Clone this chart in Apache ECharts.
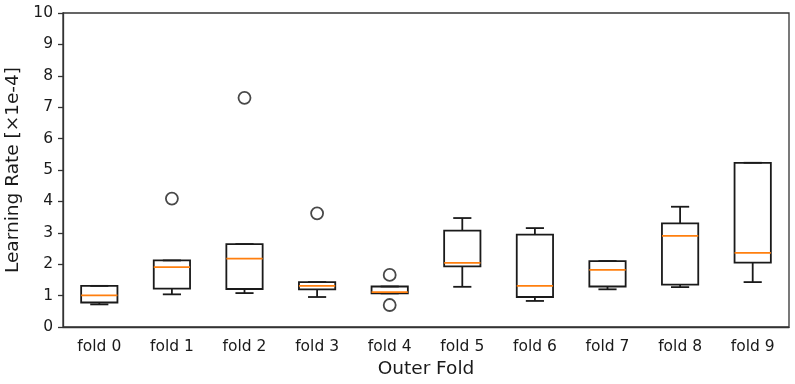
<!DOCTYPE html>
<html>
<head>
<meta charset="utf-8">
<script src="https://cdn.jsdelivr.net/npm/echarts@6/dist/echarts.min.js"></script>
<style>
  html, body { margin: 0; padding: 0; background: #fff; }
  #chart { width: 795px; height: 384px; }
</style>
</head>
<body>
<div id="chart"></div>
<script>
// box plot values per outer fold (x1e-4)
const folds = ['fold 0', 'fold 1', 'fold 2', 'fold 3', 'fold 4', 'fold 5', 'fold 6', 'fold 7', 'fold 8', 'fold 9'];
const whiskerLow = [0.72, 1.04, 1.08, 0.955, 1.07, 1.28, 0.83, 1.20, 1.27, 1.43];
const q1 = [0.78, 1.22, 1.21, 1.20, 1.07, 1.93, 0.955, 1.29, 1.35, 2.05];
const median = [1.01, 1.91, 2.18, 1.31, 1.11, 2.04, 1.31, 1.82, 2.90, 2.36];
const q3 = [1.31, 2.12, 2.64, 1.43, 1.29, 3.07, 2.94, 2.10, 3.30, 5.23];
const whiskerHigh = [1.31, 2.12, 2.64, 1.43, 1.29, 3.47, 3.15, 2.10, 3.83, 5.23];
// [fold index, value]
const outliers = [[1, 4.09], [2, 7.30], [3, 3.62], [4, 1.66], [4, 0.70]];
const yTicks = [0, 1, 2, 3, 4, 5, 6, 7, 8, 9, 10];

const boxData = folds.map((f, i) => [i, whiskerLow[i], q1[i], median[i], q3[i], whiskerHigh[i]]);

const FONT = "'DejaVu Sans', sans-serif";
const INK = '#1a1a1a';

const chart = echarts.init(document.getElementById('chart'), null, { renderer: 'canvas' });

function renderBox(params, api) {
  const idx = api.value(0);
  const band = api.size([1, 0])[0];
  const half = band * 0.25;
  const cap = band * 0.125;
  const pLow = api.coord([idx, api.value(1)]);
  const pQ1 = api.coord([idx, api.value(2)]);
  const pMed = api.coord([idx, api.value(3)]);
  const pQ3 = api.coord([idx, api.value(4)]);
  const pHigh = api.coord([idx, api.value(5)]);
  const x = pQ1[0];
  const line = { stroke: INK, lineWidth: 1.8, fill: null };
  return {
    type: 'group',
    children: [
      { type: 'line', shape: { x1: x, y1: pQ1[1], x2: x, y2: pLow[1] }, style: line },
      { type: 'line', shape: { x1: x, y1: pQ3[1], x2: x, y2: pHigh[1] }, style: line },
      { type: 'line', shape: { x1: x - cap, y1: pLow[1], x2: x + cap, y2: pLow[1] }, style: line },
      { type: 'line', shape: { x1: x - cap, y1: pHigh[1], x2: x + cap, y2: pHigh[1] }, style: line },
      { type: 'rect', shape: { x: x - half, y: pQ3[1], width: half * 2, height: pQ1[1] - pQ3[1] }, style: line },
      { type: 'line', shape: { x1: x - half, y1: pMed[1], x2: x + half, y2: pMed[1] }, style: { stroke: '#ff7f0e', lineWidth: 1.8 } }
    ]
  };
}

chart.setOption({
  animation: false,
  backgroundColor: '#fff',
  grid: {
    left: 63, right: 6, top: 13, bottom: 57,
    outerBoundsMode: 'none',
    containLabel: false,
    show: true, borderColor: '#333', borderWidth: 1.3, backgroundColor: 'transparent'
  },
  xAxis: {
    type: 'category',
    data: folds,
    name: 'Outer Fold',
    nameLocation: 'middle',
    nameGap: 33,
    nameTextStyle: { fontFamily: FONT, fontSize: 18.5, color: INK },
    axisLine: { lineStyle: { color: '#333', width: 1.3 } },
    axisTick: { alignWithLabel: true, length: 5, lineStyle: { color: '#333', width: 1.3 } },
    axisLabel: { fontFamily: FONT, fontSize: 15.5, color: INK, margin: 12 },
    splitLine: { show: false }
  },
  yAxis: {
    type: 'value',
    min: 0, max: 10, interval: 1,
    name: 'Learning Rate [×1e-4]',
    nameLocation: 'middle',
    nameGap: 25,
    nameTextStyle: { fontFamily: FONT, fontSize: 18.5, color: INK },
    axisLine: { show: true, lineStyle: { color: '#333', width: 1.3 } },
    axisTick: { show: true, length: 5, lineStyle: { color: '#333', width: 1.3 } },
    axisLabel: {
      fontFamily: FONT, fontSize: 15.5, color: INK, margin: 10,
      formatter: v => (yTicks.includes(v) ? String(v) : '')
    },
    splitLine: { show: false }
  },
  series: [
    {
      type: 'custom',
      renderItem: renderBox,
      encode: { x: 0, y: [1, 2, 3, 4, 5] },
      data: boxData,
      z: 2
    },
    {
      type: 'scatter',
      data: outliers,
      symbol: 'circle',
      symbolSize: 12,
      itemStyle: { color: 'transparent', borderColor: INK, borderWidth: 1.8 },
      z: 3
    }
  ]
});
</script>
</body>
</html>
